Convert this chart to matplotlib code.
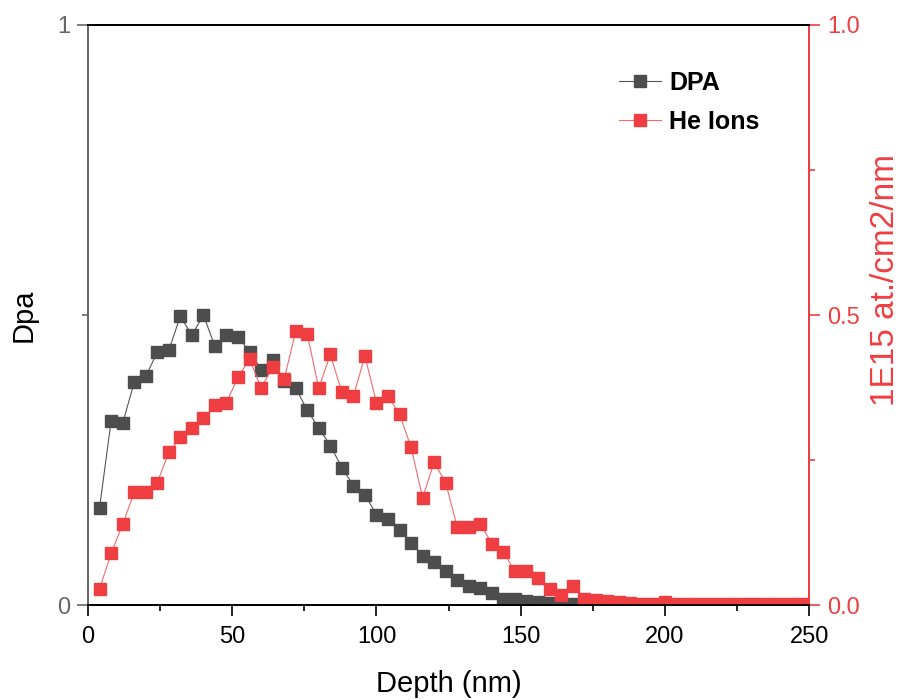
import numpy as np
import matplotlib
matplotlib.use("Agg")
import matplotlib.pyplot as plt
from matplotlib.ticker import MultipleLocator

plt.rcParams['font.family'] = ['Liberation Sans', 'DejaVu Sans']

# depth in nm, one point every 4 nm
depth = np.arange(4, 252, 4)

dpa = [0.168, 0.317, 0.313, 0.384, 0.394, 0.436, 0.439, 0.498, 0.465, 0.500,
       0.446, 0.465, 0.462, 0.437, 0.406, 0.423, 0.386, 0.374, 0.336, 0.305,
       0.275, 0.237, 0.206, 0.190, 0.156, 0.149, 0.130, 0.107, 0.085, 0.075,
       0.059, 0.043, 0.033, 0.030, 0.020, 0.011, 0.011, 0.007, 0.005, 0.004,
       0.003, 0.002, 0.001, 0.0, 0.0, 0.0, 0.0, 0.0, 0.0, 0.0,
       0.0, 0.0, 0.0, 0.0, 0.0, 0.0, 0.0, 0.0, 0.0, 0.0,
       0.0, 0.0]

he_ions = [0.028, 0.089, 0.139, 0.194, 0.194, 0.211, 0.263, 0.289, 0.306, 0.322,
           0.344, 0.349, 0.393, 0.424, 0.374, 0.410, 0.389, 0.472, 0.467, 0.374,
           0.432, 0.367, 0.360, 0.429, 0.349, 0.360, 0.329, 0.272, 0.185, 0.246,
           0.211, 0.134, 0.135, 0.140, 0.106, 0.092, 0.058, 0.058, 0.047, 0.028,
           0.018, 0.033, 0.010, 0.009, 0.007, 0.005, 0.003, 0.002, 0.002, 0.006,
           0.002, 0.001, 0.001, 0.001, 0.001, 0.001, 0.001, 0.001, 0.001, 0.001,
           0.001, 0.001]

dark = '#4d4d4d'
red = '#ef3e42'
grey = '#666666'

fig = plt.figure(figsize=(9.03, 7.0), dpi=100)
ax = fig.add_axes([0.0975, 0.1357, 0.7985, 0.8286])
ax2 = ax.twinx()

l1, = ax.plot(depth, dpa, color='#555555', lw=0.8, marker='s', ms=8.5,
              mfc=dark, mec=dark, label='DPA')
l2, = ax2.plot(depth, he_ions, color='#f26b6e', lw=0.8, marker='s', ms=8.5,
               mfc=red, mec=red, label='He Ions')

ax.set_xlim(0, 250)
ax.set_ylim(0, 1)
ax2.set_ylim(0, 1)

ax.xaxis.set_major_locator(MultipleLocator(50))
ax.xaxis.set_minor_locator(MultipleLocator(25))
ax.yaxis.set_major_locator(MultipleLocator(1))
ax.yaxis.set_minor_locator(MultipleLocator(0.5))
ax2.yaxis.set_major_locator(MultipleLocator(0.5))
ax2.yaxis.set_minor_locator(MultipleLocator(0.25))
ax2.yaxis.set_major_formatter(plt.FormatStrFormatter('%.1f'))

ax.tick_params(axis='x', which='major', direction='out', length=8, width=1.2,
               labelsize=17, colors='black', pad=7)
ax.tick_params(axis='x', which='minor', direction='out', length=4, width=1.2)
ax.tick_params(axis='y', which='major', direction='out', length=8, width=1.2,
               labelsize=17, colors=grey, pad=5)
ax.tick_params(axis='y', which='minor', direction='out', length=4, width=1.2,
               colors=grey)
ax2.tick_params(axis='y', which='major', direction='out', length=8, width=1.2,
                labelsize=17, colors=red, pad=5)
ax2.tick_params(axis='y', which='minor', direction='out', length=4, width=1.2,
                colors=red)

for a in (ax, ax2):
    a.spines['bottom'].set_color('black')
    a.spines['top'].set_color('black')
    a.spines['left'].set_color(grey)
    a.spines['right'].set_color(red)
    for s in a.spines.values():
        s.set_linewidth(1.3)

ax.set_xlabel('Depth (nm)', fontsize=21, labelpad=16)
ax.set_ylabel('Dpa', fontsize=21, labelpad=14)
ax2.set_ylabel('1E15 at./cm2/nm', fontsize=24, color=red)
ax2.yaxis.set_label_coords(1.084, 0.56)

leg = ax2.legend([l1, l2], ['DPA', 'He Ions'], loc='upper left',
                 bbox_to_anchor=(0.705, 0.96), frameon=False,
                 prop={'weight': 'bold', 'size': 18}, handlelength=1.7,
                 handletextpad=0.3, labelspacing=0.6)

fig.savefig('out.png', dpi=100)
